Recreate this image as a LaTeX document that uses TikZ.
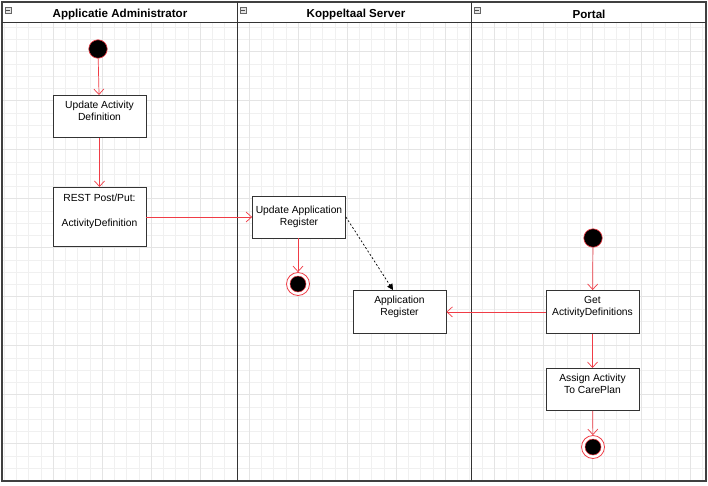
\documentclass[tikz,border=0pt]{standalone}
\usepackage{fontspec}
\setmainfont{Liberation Sans}
\usetikzlibrary{arrows.meta}
\definecolor{flowred}{RGB}{240,60,70}
\definecolor{gridc}{RGB}{240,240,240}
\definecolor{gridm}{RGB}{228,228,228}
\newcommand{\toptext}[2]{\begin{minipage}[t][#1][t]{88pt}\vspace*{2.5pt}\centering #2\end{minipage}}
\tikzset{
  act/.style={draw=black!80, line width=0.8pt, fill=white, minimum width=93pt, align=center, font=\fontsize{10.3}{12}\selectfont, inner sep=2pt},
  actt/.style={draw=black!80, line width=0.8pt, fill=white, font=\fontsize{10.3}{12}\selectfont, inner xsep=2.5pt, inner ysep=3.5pt, anchor=north},
  startnode/.style={circle, fill=black, draw=flowred, line width=0.6pt, minimum size=18.5pt, inner sep=0pt},
  endnode/.style={circle, fill=white, draw=flowred, line width=0.8pt, minimum size=23pt, inner sep=0pt,
    path picture={\fill[black, draw=flowred, line width=0.5pt] (path picture bounding box.center) circle (8pt);}},
  flow/.style={draw=flowred, line width=0.7pt, -{Straight Barb[length=5.5pt,width=10pt]}},
  dep/.style={draw=black, line width=0.7pt, dash pattern=on 2pt off 2pt, -{Triangle[length=6pt,width=6pt]}},
  lanehead/.style={font=\bfseries\fontsize{11.6}{13}\selectfont},
  icon/.style={draw=black!60, fill=black!10, line width=0.4pt, minimum size=6pt, inner sep=0pt}
}
\begin{document}
\begin{tikzpicture}[x=1pt,y=-1pt]
\useasboundingbox (0,0) rectangle (708,485);
\fill[white] (0,0) rectangle (708,485);
% grid
\foreach \x in {4,16.25,...,706} \draw[gridc, line width=0.4pt] (\x,22) -- (\x,481);
\foreach \y in {27,39.25,...,481} \draw[gridc, line width=0.4pt] (2,\y) -- (706,\y);
\foreach \x in {53,102,...,706} \draw[gridm, line width=0.5pt] (\x,22) -- (\x,481);
\foreach \y in {51,100,...,481} \draw[gridm, line width=0.5pt] (2,\y) -- (706,\y);
% frame and lanes
\draw[black!75, line width=1.3pt] (2,2) rectangle (706,481);
\draw[black!80, line width=0.8pt] (2,22) -- (706,22);
\draw[black!80, line width=0.8pt] (237,2) -- (237,481);
\draw[black!80, line width=0.8pt] (471,2) -- (471,481);
\node[lanehead] (h1) at (120,14) {Applicatie Administrator};
\node[lanehead] (h2) at (356,14) {Koppeltaal Server};
\node[lanehead] (h3) at (589,14) {Portal};
\node[icon] (i1) at (8,10) {};
\node[icon] (i2) at (243,10) {};
\node[icon] (i3) at (477,10) {};
\foreach \n in {i1,i2,i3} \draw[black!70, line width=0.5pt] ([xshift=-1.8pt]\n.center) -- ([xshift=1.8pt]\n.center);
% nodes
\node[startnode] (s1) at (98,49) {};
\node[actt] (a1) at (99.5,95) {\toptext{35pt}{Update Activity\\Definition}};
\node[actt] (a2) at (99.5,187) {\toptext{52pt}{\vspace*{1pt}REST Post/Put:\\[13pt]ActivityDefinition}};
\node[act, minimum height=42pt] (a3) at (299,217) {Update Application\\Register};
\node[endnode] (e1) at (298,284) {};
\node[actt] (a4) at (399.5,290) {\toptext{36pt}{Application\\Register}};
\node[startnode] (s2) at (593,238) {};
\node[actt] (a5) at (592.5,290) {\toptext{36pt}{Get\\ActivityDefinitions}};
\node[actt] (a6) at (592.5,368) {\toptext{35pt}{Assign Activity\\To CarePlan}};
\node[endnode] (e2) at (593,447) {};
% edges
\draw[flow] (s1) -- (a1);
\draw[flow] (a1) -- (a2);
\draw[flow] (a2.east |- a3.west) -- (a3.west);
\draw[flow] (a3.south -| e1) -- (e1);
\coordinate (d1) at (393,290);
\draw[dep] (a3.east) -- (d1);
\draw[flow] (s2) -- (a5);
\draw[flow] (a5.west) -- (a4.east);
\draw[flow] (a5) -- (a6);
\draw[flow] (a6) -- (e2);
\end{tikzpicture}
\end{document}
